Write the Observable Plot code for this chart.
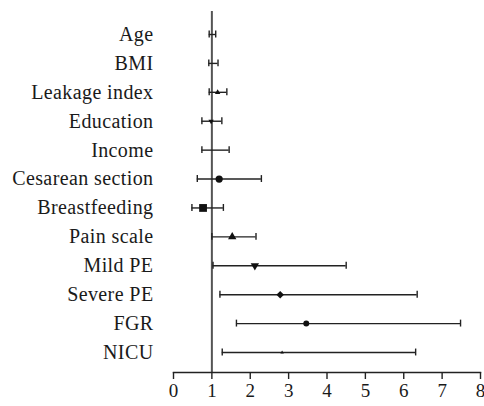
<!DOCTYPE html>
<html>
<head>
<meta charset="utf-8">
<script src="https://cdn.jsdelivr.net/npm/d3@7"></script>
<script src="https://cdn.jsdelivr.net/npm/@observablehq/plot@0.6"></script>
<style>
  html, body { margin: 0; padding: 0; background: #fff; font-family: "Liberation Serif", serif; overflow: hidden; }
  #chart { position: absolute; left: 0; top: 0; width: 484px; height: 406px; }
  #chart svg { display: block; position: absolute; left: 0; top: 0; }
</style>
</head>
<body>
<div id="chart"></div>
<script>
const variables = ["Age", "BMI", "Leakage index", "Education", "Income", "Cesarean section", "Breastfeeding", "Pain scale", "Mild PE", "Severe PE", "FGR", "NICU"];
const estimate = [1.00, 1.03, 1.15, 0.98, 1.05, 1.19, 0.77, 1.53, 2.12, 2.78, 3.46, 2.83];
const lower    = [0.93, 0.92, 0.93, 0.74, 0.74, 0.62, 0.48, 1.00, 1.03, 1.21, 1.64, 1.27];
const upper    = [1.10, 1.16, 1.39, 1.26, 1.45, 2.29, 1.30, 2.15, 4.50, 6.35, 7.48, 6.31];
const xTicks   = [0, 1, 2, 3, 4, 5, 6, 7, 8];

const rows = variables.map((v, i) => ({variable: v, est: estimate[i], lo: lower[i], hi: upper[i]}));

// marker style per row (style only, not data)
const triangleDown = {
  draw(context, size) {
    const y = -Math.sqrt(size / (Math.sqrt(3) * 3));
    context.moveTo(0, -y * 2);
    context.lineTo(-Math.sqrt(3) * y, y);
    context.lineTo(Math.sqrt(3) * y, y);
    context.closePath();
  }
};
const markerStyle = {
  "Leakage index": {symbol: "triangle", r: 2.0},
  "Education": {symbol: triangleDown, r: 2.0},
  "Cesarean section": {symbol: "circle", r: 3.6},
  "Breastfeeding": {symbol: "square", r: 4.4},
  "Pain scale": {symbol: "triangle", r: 3.1},
  "Mild PE": {symbol: triangleDown, r: 3.1},
  "Severe PE": {symbol: "diamond2", r: 3.4},
  "FGR": {symbol: "circle", r: 3.0},
  "NICU": {symbol: "triangle", r: 1.3}
};

const markerMarks = Object.entries(markerStyle).map(([name, s]) =>
  Plot.dot(rows.filter(d => d.variable === name), {
    x: "est", y: "variable", symbol: s.symbol, r: s.r, fill: "#111", stroke: "none"
  })
);

const font = "Liberation Serif";

const chart = Plot.plot({
  width: 484,
  height: 406,
  marginLeft: 173,
  marginRight: 4,
  marginTop: 11,
  marginBottom: 34,
  style: {fontFamily: font, background: "#fff", color: "#1a1a1a"},
  x: {domain: [0, 8], ticks: xTicks},
  y: {type: "band", domain: variables, padding: 0, round: false, range: [19.55, 366.45]},
  marks: [
    Plot.ruleX([1], {stroke: "#555", strokeWidth: 2}),
    Plot.ruleY(rows, {y: "variable", x1: "lo", x2: "hi", stroke: "#222", strokeWidth: 1.4}),
    Plot.tickX(rows, {x: "lo", y: "variable", stroke: "#222", strokeWidth: 1.4, insetTop: 11, insetBottom: 11}),
    Plot.tickX(rows, {x: "hi", y: "variable", stroke: "#222", strokeWidth: 1.4, insetTop: 11, insetBottom: 11}),
    ...markerMarks,
    Plot.frame({anchor: "bottom", stroke: "#222", strokeWidth: 1.4}),
    Plot.axisX({ticks: xTicks, tickSize: 7, tickPadding: 4, tickFormat: d => String(d), stroke: "#222", strokeWidth: 1.4, fontSize: 19, fontFamily: font, label: null}),
    Plot.axisY({tickSize: 0, tickPadding: 20, fontSize: 20, fontFamily: font, label: null})
  ]
});
chart.querySelectorAll("[aria-label='y-axis tick label'] text").forEach(el => { el.style.letterSpacing = "0.4px"; });
document.getElementById("chart").appendChild(chart);
</script>
</body>
</html>
